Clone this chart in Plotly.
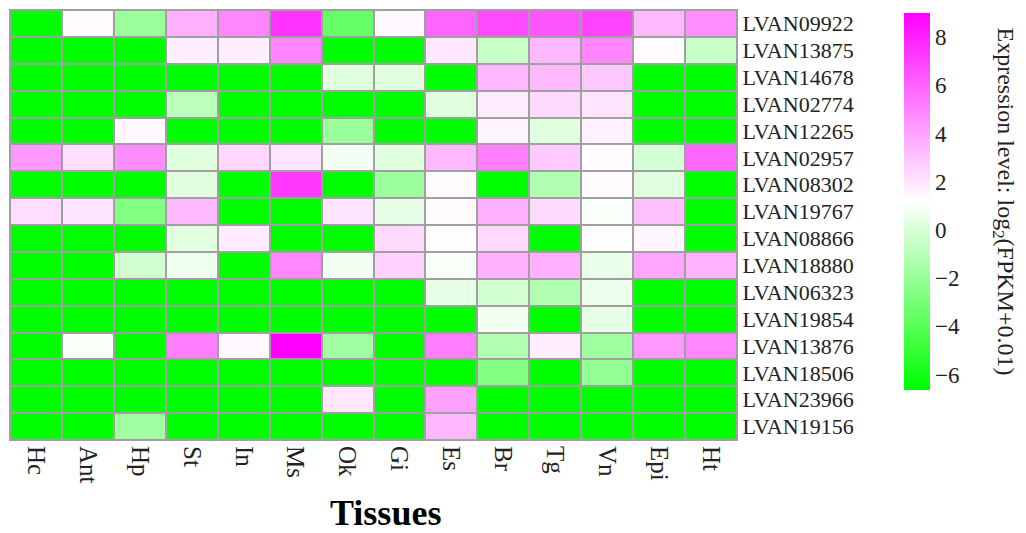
import plotly.graph_objects as go

tissues = ["Hc", "Ant", "Hp", "St", "In", "Ms", "Ok", "Gi", "Es", "Br", "Tg", "Vn", "Epi", "Ht"]
genes = ["LVAN09922", "LVAN13875", "LVAN14678", "LVAN02774", "LVAN12265", "LVAN02957",
         "LVAN08302", "LVAN19767", "LVAN08866", "LVAN18880", "LVAN06323", "LVAN19854",
         "LVAN13876", "LVAN18506", "LVAN23966", "LVAN19156"]

G = -6.64  # log2(0.01): not expressed

r01 = [G, 1.3, -1.9, 3.6, 4.9, 7.5, -3.5, 1.4, 5.9, 6.7, 6.4, 6.9, 3.3, 4.6]
r02 = [G, G, G, 1.7, 1.7, 4.9, G, G, 1.9, -0.5, 3.4, 4.9, 1.3, -0.5]
r03 = [G, G, G, G, G, G, 0.2, 0.2, G, 3.4, 3.3, 2.9, G, G]
r04 = [G, G, G, -0.9, G, G, G, G, 0.2, 1.8, 2.3, 2.0, G, G]
r05 = [G, G, 1.4, G, G, G, -1.9, G, G, 1.5, 0.2, 1.6, G, G]
r06 = [4.3, 2.2, 4.7, 0.2, 2.4, 2.0, 0.8, 0.2, 3.3, 5.1, 2.8, 1.3, -0.1, 5.9]
r07 = [G, G, G, 0.2, G, 7.3, G, -1.9, 1.3, G, -1.2, 1.3, 0.2, G]
r08 = [2.2, 2.0, -2.7, 3.3, G, G, 2.0, 0.4, 1.3, 3.6, 2.3, 1.0, 3.1, G]
r09 = [G, G, G, 0.3, 1.8, G, G, 2.3, 1.2, 2.4, G, 1.2, 1.5, G]
r10 = [G, G, -0.2, 0.7, G, 4.9, 0.8, 2.6, 1.0, 3.6, 3.6, 0.5, 3.9, 3.5]
r11 = [G, G, G, G, G, G, G, G, 0.4, -0.2, -1.2, 0.6, G, G]
r12 = [G, G, G, G, G, G, G, G, G, 0.8, G, 0.4, G, G]
r13 = [G, 1.0, G, 5.1, 1.4, 9.0, -1.7, G, 5.1, -1.2, 1.7, -1.8, 4.3, 4.9]
r14 = [G, G, G, G, G, G, G, G, G, -2.7, G, -2.2, G, G]
r15 = [G, G, G, G, G, G, 1.9, G, 4.1, G, G, G, G, G]
r16 = [G, G, -1.7, G, G, G, G, G, 3.4, G, G, G, G, G]

z = [r01, r02, r03, r04, r05, r06, r07, r08, r09, r10, r11, r12, r13, r14, r15, r16]

FONT = "Liberation Serif"

fig = go.Figure(go.Heatmap(
    z=z, x=tissues, y=genes,
    zmin=-6.64, zmax=9.0,
    colorscale=[[0, "#00ff00"], [0.5, "#ffffff"], [1, "#ff00ff"]],
    xgap=2, ygap=2,
    colorbar=dict(
        x=1.2297, xanchor="left", xref="paper",
        y=0.5547, yanchor="middle",
        thickness=26, thicknessmode="pixels",
        len=377, lenmode="pixels",
        outlinewidth=0, ticks="",
        tickmode="array", tickvals=[-6, -4, -2, 0, 2, 4, 6, 8],
        ticktext=["\u22126", "\u22124", "\u22122", "0", "2", "4", "6", "8"],
        tickfont=dict(family=FONT, size=23, color="#222"),
        ypad=0, xpad=0,
    ),
))

fig.update_layout(
    width=1026, height=533,
    margin=dict(l=10, r=289, t=10, b=93),
    paper_bgcolor="white",
    plot_bgcolor="#a0a0a0",
    font=dict(family=FONT, color="#222"),
    xaxis=dict(
        tickangle=90, tickfont=dict(family=FONT, size=25), ticks="",
        showgrid=False, zeroline=False, showline=True, linecolor="#a0a0a0",
        linewidth=1, mirror=True,
    ),
    yaxis=dict(
        autorange="reversed", side="right", tickfont=dict(family=FONT, size=22),
        ticks="", showgrid=False, zeroline=False, showline=True,
        linecolor="#a0a0a0", linewidth=1, mirror=True,
    ),
    annotations=[
        dict(text="<b>Tissues</b>", x=0.516, y=-0.17, xref="paper", yref="paper",
             xanchor="center", yanchor="middle", showarrow=False, borderpad=0,
             font=dict(family=FONT, size=36, color="black")),
        dict(text="Expression level: log<sub>2</sub>(FPKM+0.01)", x=1.367, y=0.555,
             xref="paper", yref="paper", xanchor="center", yanchor="middle",
             textangle=90, showarrow=False,
             font=dict(family=FONT, size=24, color="#222")),
    ],
)

fig.write_html("out.html")
